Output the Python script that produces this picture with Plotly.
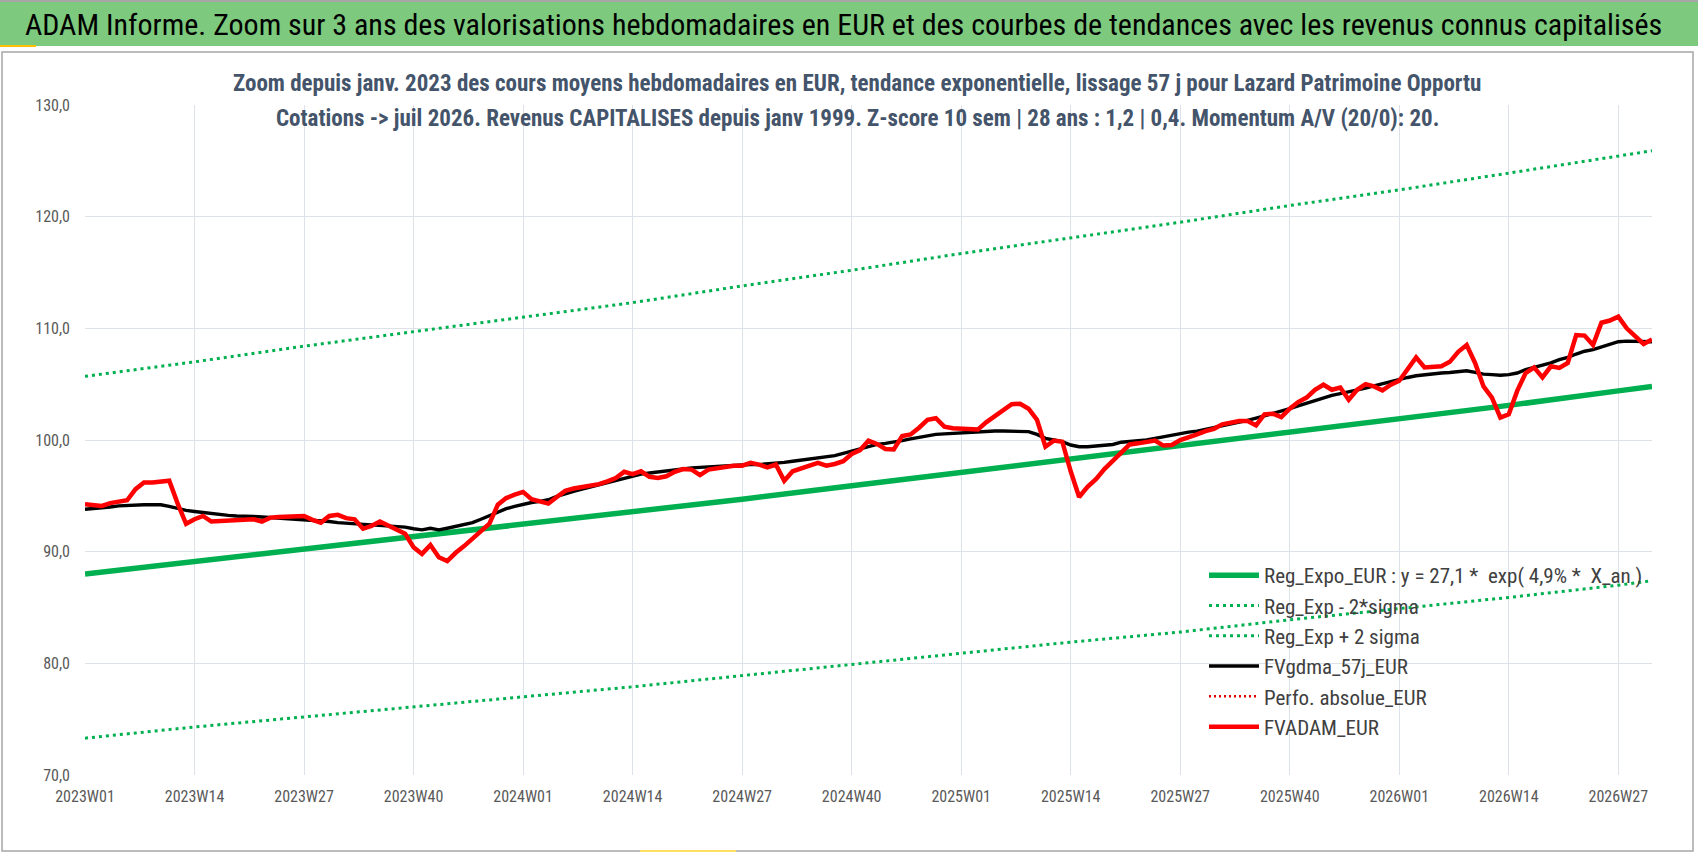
import plotly.graph_objects as go

# ---------------- data ----------------
weeks = [f"{yr}W{w:02d}" for yr, n in [(2023, 52), (2024, 52), (2025, 52), (2026, 31)] for w in range(1, n + 1)]

tick_labels = ["2023W01", "2023W14", "2023W27", "2023W40", "2024W01", "2024W14", "2024W27",
               "2024W40", "2025W01", "2025W14", "2025W27", "2025W40", "2026W01", "2026W14", "2026W27"]

fvadam = [94.25, 94.15, 94.1, 94.35, 94.5, 94.6, 95.6, 96.2, 96.2, 96.3, 96.35, 94.3, 92.5, 92.9, 93.2,
          92.7, 92.75, 92.7, 92.8, 92.9, 92.9, 92.7, 93.05, 93.1, 93.15, 93.1, 93.2, 92.85, 92.6, 93.2,
          93.3, 93.0, 92.9, 92.05, 92.3, 92.7, 92.35, 92.05, 91.6, 90.4, 89.8, 90.6, 89.5, 89.15, 89.9,
          90.5, 91.2, 91.8, 92.5, 94.2, 94.8, 95.1, 95.35, 94.7, 94.5, 94.3, 94.9, 95.45, 95.65, 95.75,
          95.9, 96.05, 96.3, 96.6, 97.15, 96.95, 97.2, 96.7, 96.6, 96.75, 97.15, 97.4, 97.35, 96.85, 97.35,
          97.5, 97.6, 97.7, 97.7, 97.95, 97.8, 97.55, 97.8, 96.35, 97.2, 97.5, 97.7, 97.95, 97.7, 97.85,
          98.1, 98.75, 99.1, 99.95, 99.65, 99.2, 99.15, 100.35, 100.5, 101.1, 101.8, 101.95, 101.2, 101.05,
          101.0, 101.05, 100.95, 101.6, 102.1, 102.7, 103.2, 103.25, 102.8, 101.8, 99.4, 99.95, 99.85, 97.2,
          94.9, 95.8, 96.5, 97.4, 98.1, 98.8, 99.6, 99.7, 99.8, 99.95, 99.5, 99.55, 100.0, 100.2, 100.5,
          100.8, 101.0, 101.4, 101.6, 101.7, 101.7, 101.3, 102.3, 102.35, 102.05, 102.8, 103.4, 103.8,
          104.5, 104.95, 104.5, 104.7, 103.6, 104.5, 105.0, 104.8, 104.45, 104.95, 105.3, 106.4, 107.4,
          106.5, 106.6, 106.6, 107.0, 107.9, 108.5, 106.9, 104.8, 103.8, 102.0, 102.3, 104.4, 106.0, 106.5,
          105.6, 106.6, 106.45, 106.9, 109.4, 109.35, 108.5, 110.5, 110.7, 111.05, 110.0, 109.3, 108.6, 109.0]

fvgdma = [93.8, 93.85, 93.9, 94.0, 94.1, 94.15, 94.2, 94.2, 94.2, 94.2, 94.05, 93.85, 93.7, 93.6, 93.5,
          93.4, 93.3, 93.25, 93.2, 93.2, 93.15, 93.1, 93.05, 93.0, 93.0, 92.95, 92.9, 92.85, 92.8, 92.7,
          92.6, 92.55, 92.5, 92.45, 92.4, 92.35, 92.3, 92.25, 92.2, 92.05, 91.95, 92.1, 91.95, 92.1, 92.25,
          92.4, 92.6, 92.9, 93.2, 93.5, 93.85, 94.05, 94.25, 94.4, 94.5, 94.65, 94.95, 95.2, 95.4, 95.6,
          95.8, 96.0, 96.2, 96.4, 96.6, 96.8, 96.95, 97.05, 97.15, 97.25, 97.35, 97.4, 97.5, 97.55, 97.6,
          97.65, 97.7, 97.7, 97.75, 97.8, 97.8, 97.85, 97.9, 98.0, 98.1, 98.2, 98.3, 98.4, 98.5, 98.6,
          98.8, 99.0, 99.2, 99.45, 99.6, 99.7, 99.8, 99.95, 100.1, 100.25, 100.4, 100.5, 100.55, 100.6,
          100.65, 100.7, 100.75, 100.8, 100.8, 100.8, 100.8, 100.8, 100.75, 100.5, 100.15, 100.0, 99.85,
          99.55, 99.4, 99.4, 99.45, 99.55, 99.6, 99.8, 99.85, 99.9, 100.0, 100.15, 100.3, 100.45, 100.55,
          100.7, 100.8, 100.95, 101.1, 101.25, 101.45, 101.6, 101.75, 101.95, 102.15, 102.35, 102.55,
          102.8, 103.05, 103.3, 103.55, 103.8, 104.0, 104.15, 104.3, 104.45, 104.65, 104.85, 105.05,
          105.25, 105.45, 105.6, 105.75, 105.85, 105.95, 106.0, 106.05, 106.1, 106.2, 106.05, 105.9,
          105.85, 105.8, 105.85, 106.0, 106.3, 106.5, 106.7, 106.9, 107.2, 107.4, 107.7, 107.95, 108.1,
          108.35, 108.6, 108.8, 108.85, 108.85, 108.85, 108.8]

trend_weeks = tick_labels + ["2026W31"]
reg_expo = [88.0, 89.1, 90.2, 91.3, 92.4, 93.5, 94.7, 95.9, 97.1, 98.3, 99.4, 100.7, 101.9, 103.1, 104.4, 104.8]
reg_minus = [73.3, 74.3, 75.2, 76.1, 77.0, 77.9, 78.9, 79.9, 80.9, 81.9, 82.8, 83.9, 84.9, 85.9, 87.0, 87.4]
reg_plus = [105.7, 107.0, 108.4, 109.7, 111.0, 112.3, 113.8, 115.2, 116.7, 118.1, 119.5, 121.0, 122.4, 123.9, 125.4, 125.9]
perfo_abs = [None] * len(weeks)

# ---------------- figure ----------------
W, H = 1698, 856
L, R, T, B = 85, 1652, 105, 775
FONT = "Liberation Sans Narrow, Arial Narrow, Roboto Condensed, sans-serif"
GREEN = "#00B050"


def px(x):
    return (x - L) / (R - L)


def py(y):
    return (B - y) / (B - T)


fig = go.Figure()
fig.add_trace(go.Scatter(x=trend_weeks, y=reg_expo, mode="lines", name="Reg_Expo_EUR : y = 27,1 *  exp( 4,9% *  X_an )",
                         line=dict(color=GREEN, width=5.5), legendgroup="a"))
fig.add_trace(go.Scatter(x=trend_weeks, y=reg_minus, mode="lines", name="Reg_Exp - 2*sigma",
                         line=dict(color=GREEN, width=3, dash="3px,4px"), legendgroup="b"))
fig.add_trace(go.Scatter(x=trend_weeks, y=reg_plus, mode="lines", name="Reg_Exp + 2 sigma",
                         line=dict(color=GREEN, width=3, dash="3px,4px"), legendgroup="c"))
fig.add_trace(go.Scatter(x=weeks, y=fvgdma, mode="lines", name="FVgdma_57j_EUR",
                         line=dict(color="black", width=3.4), legendgroup="d"))
fig.add_trace(go.Scatter(x=weeks, y=perfo_abs, mode="lines", name="Perfo. absolue_EUR",
                         line=dict(color="#E00000", width=2.5, dash="2px,3px"), legendgroup="e"))
fig.add_trace(go.Scatter(x=weeks, y=fvadam, mode="lines", name="FVADAM_EUR",
                         line=dict(color="#FF0000", width=4.5), legendgroup="f"))

shapes = [
    # green title band
    dict(type="rect", xref="paper", yref="paper", x0=px(0), x1=px(W), y0=py(46), y1=py(2),
         fillcolor="#7DC97D", line=dict(width=0), layer="below"),
    # top thin grey line
    dict(type="line", xref="paper", yref="paper", x0=px(0), x1=px(W), y0=py(1), y1=py(1),
         line=dict(color="#A6A6A6", width=2)),
    # chart area border
    dict(type="rect", xref="paper", yref="paper", x0=px(2), x1=px(1693), y0=py(851), y1=py(52),
         line=dict(color="#A6A6A6", width=1.5), layer="below"),
    # small yellow accents
    dict(type="line", xref="paper", yref="paper", x0=px(0), x1=px(36), y0=py(46), y1=py(46),
         line=dict(color="#FFC000", width=2)),
    dict(type="line", xref="paper", yref="paper", x0=px(640), x1=px(736), y0=py(851), y1=py(851),
         line=dict(color="#FFE060", width=2)),
]

annotations = [
    dict(text="ADAM Informe. Zoom sur 3 ans des valorisations hebdomadaires en EUR et des courbes de tendances avec les revenus connus capitalisés",
         xref="paper", yref="paper", x=px(843), y=py(24), xanchor="center", yanchor="middle", showarrow=False,
         font=dict(family=FONT, size=30, color="#000000")),
    dict(text="<b>Zoom depuis janv. 2023 des cours moyens hebdomadaires en EUR, tendance exponentielle, lissage 57 j pour Lazard Patrimoine Opportu</b>",
         xref="paper", yref="paper", x=px(857), y=py(83), xanchor="center", yanchor="middle", showarrow=False,
         font=dict(family=FONT, size=23, color="#44546A")),
    dict(text="<b>Cotations -> juil 2026. Revenus CAPITALISES depuis janv 1999. Z-score 10 sem | 28 ans : 1,2 | 0,4. Momentum A/V (20/0): 20.</b>",
         xref="paper", yref="paper", x=px(857), y=py(118), xanchor="center", yanchor="middle", showarrow=False,
         font=dict(family=FONT, size=23, color="#44546A")),
]

fig.update_layout(
    width=W, height=H,
    margin=dict(l=L, r=W - R, t=T, b=H - B, pad=0),
    paper_bgcolor="white", plot_bgcolor="white",
    separators=", ",
    showlegend=True,
    legend=dict(x=px(1204), y=py(555), xanchor="left", yanchor="top", bgcolor="rgba(0,0,0,0)",
                font=dict(family=FONT, size=21, color="#404040"), tracegroupgap=14, itemwidth=50,
                traceorder="normal"),
    shapes=shapes,
    annotations=annotations,
    xaxis=dict(type="category", categoryorder="array", categoryarray=weeks,
               range=[0, len(weeks) - 1], tickmode="array", tickvals=tick_labels, ticktext=tick_labels,
               showgrid=True, gridcolor="#DDE1E8", gridwidth=1.2, zeroline=False, showline=False,
               ticks="", ticklabelstandoff=10, tickfont=dict(family=FONT, size=16, color="#595959")),
    yaxis=dict(range=[70, 130], dtick=10, tick0=70, tickformat=".1f", showgrid=True, gridcolor="#DDE1E8",
               gridwidth=1.2, zeroline=False, showline=False, ticks="", ticklabelstandoff=14,
               tickfont=dict(family=FONT, size=16, color="#595959")),
    font=dict(family=FONT),
)

fig.write_html("out.html", config={"displayModeBar": False},
               post_script="document.body.style.margin='0';document.body.style.overflow='hidden';")
